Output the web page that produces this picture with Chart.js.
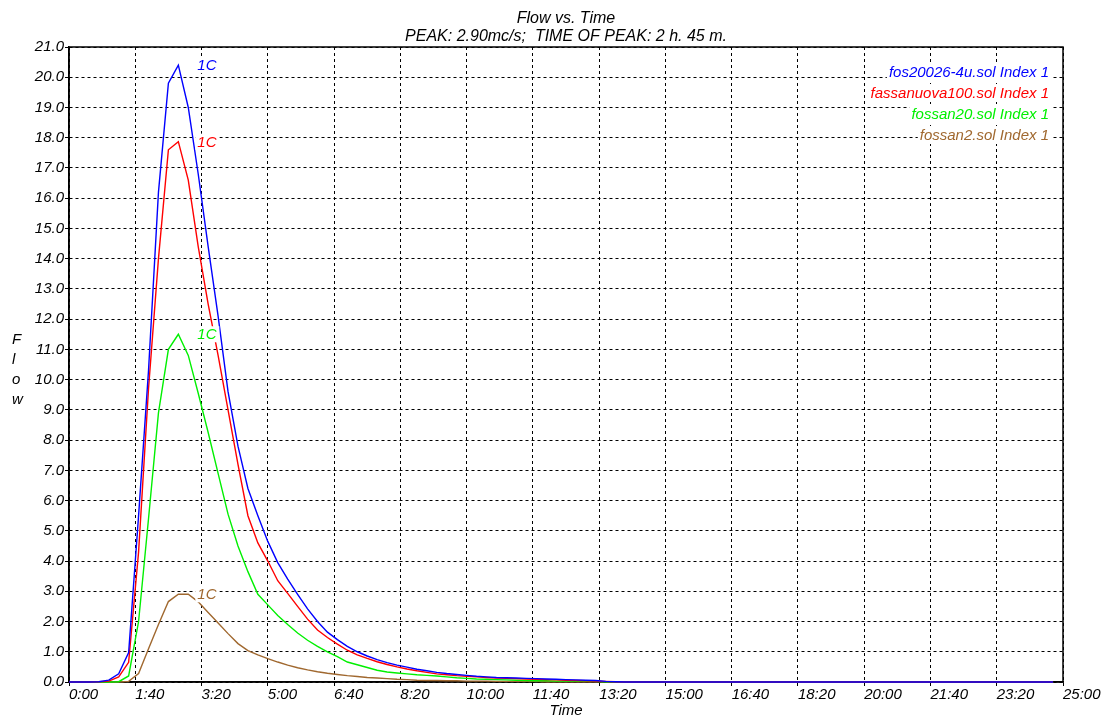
<!DOCTYPE html>
<html><head><meta charset="utf-8">
<script src="https://cdn.jsdelivr.net/npm/chart.js@4.4.1/dist/chart.umd.min.js"></script>
<style>html,body{margin:0;padding:0;background:#fff}#wrap{width:1104px;height:718px}</style>
</head><body><div id="wrap"><canvas id="c" width="1104" height="718"></canvas></div>
<script>
// ---- data (minutes, flow) ----
const times = [0,15,30,45,60,75,90,105,120,135,150,165,180,195,210,225,240,255,270,285,300,315,330,345,360,375,390,405,420,435,450,465,480,495,510,525,540,555,570,585,600,615,630,645,660,675,690,705,720,735,750,765,780,795,810,825,840,1485];
const blueFlow = [0,0,0,0.01,0.06,0.27,0.97,5.5,10.3,16.2,19.8,20.4,19.0,16.8,14.4,12.1,9.6,7.8,6.4,5.5,4.65,3.95,3.4,2.9,2.42,2.0,1.65,1.4,1.18,1.0,0.86,0.74,0.64,0.56,0.49,0.42,0.37,0.32,0.28,0.25,0.22,0.19,0.17,0.15,0.14,0.13,0.12,0.11,0.1,0.09,0.08,0.07,0.06,0.05,0.02,0.01,0,0];
const redFlow = [0,0,0,0.01,0.03,0.17,0.65,4.3,9.7,14.0,17.6,17.87,16.6,14.4,12.5,10.8,9.0,7.2,5.5,4.6,4.0,3.35,2.93,2.5,2.08,1.72,1.47,1.25,1.05,0.9,0.78,0.67,0.58,0.5,0.43,0.37,0.32,0.27,0.24,0.21,0.19,0.17,0.15,0.13,0.12,0.11,0.1,0.09,0.08,0.07,0.06,0.05,0.04,0.03,0.02,0.01,0,0];
const greenFlow = [0,0,0,0,0,0.01,0.2,2.0,5.4,8.9,11.0,11.5,10.8,9.55,8.25,6.9,5.55,4.5,3.65,2.9,2.55,2.2,1.9,1.62,1.38,1.18,1.0,0.84,0.66,0.57,0.48,0.39,0.33,0.3,0.27,0.24,0.22,0.2,0.17,0.14,0.12,0.1,0.09,0.08,0.07,0.06,0.05,0.04,0.04,0.03,0.03,0.02,0.02,0.02,0.01,0.01,0,0];
const brownFlow = [0,0,0,0,0,0,0.02,0.28,1.1,1.9,2.66,2.9,2.9,2.65,2.3,1.95,1.6,1.27,1.04,0.9,0.77,0.66,0.56,0.47,0.4,0.34,0.29,0.25,0.21,0.18,0.15,0.13,0.11,0.09,0.08,0.06,0.05,0.05,0.04,0.04,0.03,0.03,0.03,0.02,0.02,0.02,0.02,0.02,0.01,0.01,0.01,0.01,0.01,0.01,0.01,0.01,0,0];
const seriesLabels = ['fos20026-4u.sol Index 1','fassanuova100.sol Index 1','fossan20.sol Index 1','fossan2.sol Index 1'];
const seriesColors = ['#0000ff','#ff0000','#00f000','#a0682f'];
const titleLines = ['Flow vs. Time','PEAK: 2.90mc/s;  TIME OF PEAK: 2 h. 45 m.'];
const yTitleLetters = ['F','l','o','w'];
const xTitle = 'Time';
const peakTag = '1C';
const xMin = 0, xMax = 1500, xStep = 100;
const yMin = 0, yMax = 21, yStep = 1;

const FONT = '"Liberation Sans", Arial, sans-serif';
const seriesValues = [blueFlow, redFlow, greenFlow, brownFlow];

const datasets = seriesValues.map((vals, i) => ({
  label: seriesLabels[i],
  data: times.map((t, k) => ({x: t, y: vals[k]})),
  borderColor: seriesColors[i],
  backgroundColor: seriesColors[i],
  borderWidth: 1.4,
  pointRadius: 0,
  tension: 0,
  fill: false,
  clip: 4
}));

const decor = {
  id: 'decor',
  beforeDatasetsDraw(chart) {
    const {ctx, chartArea: a} = chart;
    ctx.save();
    ctx.strokeStyle = '#000';
    ctx.lineWidth = 1.5;
    ctx.strokeRect(a.left, a.top, a.right - a.left, a.bottom - a.top);
    // title centred over the plot area
    ctx.fillStyle = '#000';
    ctx.font = 'italic 16px ' + FONT;
    ctx.textAlign = 'center';
    ctx.textBaseline = 'middle';
    const cx = (a.left + a.right) / 2;
    titleLines.forEach((t, i) => ctx.fillText(t, cx, 19 + i * 18));
    ctx.restore();
  },
  afterDatasetsDraw(chart) {
    const {ctx, chartArea: a} = chart;
    const xs = chart.scales.x, ys = chart.scales.y;
    ctx.save();
    ctx.font = 'italic 15px ' + FONT;
    ctx.textBaseline = 'middle';
    // peak tags
    chart.data.datasets.forEach(ds => {
      const pk = ds.data.reduce((m, p) => p.y > m.y ? p : m, ds.data[0]);
      const px = xs.getPixelForValue(pk.x), py = ys.getPixelForValue(pk.y);
      ctx.fillStyle = '#fff';
      ctx.fillRect(px + 17, py - 8, 24, 16);
      ctx.fillStyle = ds.borderColor;
      ctx.textAlign = 'left';
      ctx.fillText(peakTag, px + 19, py + 1);
    });
    // legend (right aligned, inside plot)
    const rx = a.right - 14;
    chart.data.datasets.forEach((ds, i) => {
      const y = a.top + 25 + i * 21;
      const w = ctx.measureText(ds.label).width;
      ctx.fillStyle = '#fff';
      ctx.fillRect(rx - w - 2, y - 9, w + 4, 18);
      ctx.fillStyle = ds.borderColor;
      ctx.textAlign = 'right';
      ctx.fillText(ds.label, rx, y + 1);
    });
    // vertical y-axis title letters
    ctx.fillStyle = '#000';
    ctx.textAlign = 'left';
    const mid = (a.top + a.bottom) / 2;
    yTitleLetters.forEach((ch, i) => {
      ctx.fillText(ch, 12, mid - 25 + i * 20);
    });
    ctx.restore();
  }
};

const fmtTime = v => Math.floor(v / 60) + ':' + String(v % 60).padStart(2, '0');

new Chart(document.getElementById('c'), {
  type: 'line',
  data: {datasets},
  plugins: [decor],
  options: {
    responsive: false,
    animation: false,
    devicePixelRatio: 1,
    layout: {padding: {left: 0, right: 41, top: 47, bottom: 0}},
    plugins: {
      legend: {display: false},
      tooltip: {enabled: false},
      title: {display: false}
    },
    scales: {
      x: {
        type: 'linear',
        min: xMin, max: xMax,
        afterFit(s) { s.height = 36; s.paddingLeft = 0; s.paddingRight = 0; },
        ticks: {
          stepSize: xStep, autoSkip: false, maxRotation: 0, align: 'start',
          padding: 0, color: '#000',
          font: {family: FONT, size: 15, style: 'italic'},
          callback: v => fmtTime(v)
        },
        grid: {color: '#000', lineWidth: 1, tickLength: 4, tickColor: '#000', borderDash: [3, 3]},
        border: {display: true, color: '#000', width: 1.5, dash: [3, 3]},
        title: {display: true, text: xTitle, color: '#000', padding: 0,
          font: {family: FONT, size: 15, style: 'italic', lineHeight: 1}}
      },
      y: {
        type: 'linear',
        min: yMin, max: yMax,
        afterFit(s) { s.width = 69; s.paddingTop = 0; s.paddingBottom = 0; },
        ticks: {
          stepSize: yStep, padding: 1, color: '#000',
          font: {family: FONT, size: 15, style: 'italic'},
          callback: v => Number(v).toFixed(1)
        },
        grid: {color: '#000', lineWidth: 1, tickLength: 4, tickColor: '#000', borderDash: [3, 3]},
        border: {display: true, color: '#000', width: 1.5, dash: [3, 3]}
      }
    }
  }
});
</script></body></html>
